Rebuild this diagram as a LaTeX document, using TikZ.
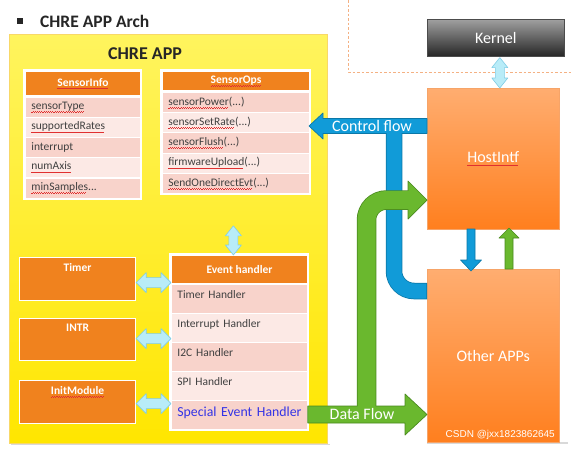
\documentclass[tikz,border=0pt]{standalone}
\usepackage{fontspec}
\setmainfont{Carlito}
\newfontfamily\csdnfont{Liberation Sans}
\usetikzlibrary{calc}
\definecolor{orh}{HTML}{F0821E}
\definecolor{rowD}{HTML}{F8D3CB}
\definecolor{rowL}{HTML}{FCE9E5}
\definecolor{txt}{HTML}{404040}
\definecolor{ttl}{HTML}{262626}
\definecolor{cfb}{HTML}{119BD8}
\definecolor{cfbd}{HTML}{0B78A8}
\definecolor{dfg}{HTML}{6AB82E}
\definecolor{dfgd}{HTML}{4A8A1F}
\definecolor{lbf}{HTML}{B8ECF8}
\definecolor{lbd}{HTML}{80CDE6}
\definecolor{sqr}{HTML}{E03030}
\definecolor{spec}{HTML}{3333E6}
\definecolor{dashc}{HTML}{F4B183}
\definecolor{ylT}{HTML}{FFF45E}
\definecolor{ylB}{HTML}{FFE600}
\definecolor{ylE}{HTML}{F8D868}
\definecolor{hoT}{HTML}{FFAD70}
\definecolor{hoB}{HTML}{FF7F1E}
\definecolor{hoE}{HTML}{F6A468}
\definecolor{knT}{HTML}{A0A0A0}
\definecolor{knB}{HTML}{262626}
\newcommand\sqw[1]{\setbox0\hbox{#1}\leavevmode\rlap{\color{sqr}\lower2.9pt\hbox to \wd0{\leaders\hbox{\rule{1.1pt}{0.45pt}\raise0.7pt\hbox{\rule{1.1pt}{0.45pt}}}\hfill}}\box0}
\newcommand\myfs[1]{\fontsize{#1}{#1}\selectfont}
\newcommand\hdbl[2]{\draw[lba] let \p1=(#1), \p2=(#2) in (\x1,\y1) -- (\x1+10pt,\y1+10pt) -- (\x1+10pt,\y1+5pt) -- (\x2-10pt,\y1+5pt) -- (\x2-10pt,\y1+10pt) -- (\x2,\y1) -- (\x2-10pt,\y1-10pt) -- (\x2-10pt,\y1-5pt) -- (\x1+10pt,\y1-5pt) -- (\x1+10pt,\y1-10pt) -- cycle;}
\newcommand\vdbl[2]{\draw[lba] let \p1=(#1), \p2=(#2) in (\x1,\y1) -- (\x1+8pt,\y1-10pt) -- (\x1+4.5pt,\y1-10pt) -- (\x1+4.5pt,\y2+10pt) -- (\x1+8pt,\y2+10pt) -- (\x1,\y2) -- (\x1-8pt,\y2+10pt) -- (\x1-4.5pt,\y2+10pt) -- (\x1-4.5pt,\y1-10pt) -- (\x1-8pt,\y1-10pt) -- cycle;}
\tikzset{
 hdr/.style={fill=orh, draw=white, line width=1pt, anchor=north west, inner sep=0pt, text=white, font=\myfs{11.5}\bfseries},
 cell/.style={draw=white, line width=0.8pt, anchor=north west, inner xsep=6pt, inner ysep=0pt, align=left, text=txt, font=\myfs{11.5}},
 dk/.style={cell, fill=rowD},
 lt/.style={cell, fill=rowL},
 obox/.style={fill=orh, draw=white, line width=1.2pt, anchor=north west, minimum width=116pt, minimum height=43pt, inner sep=0pt},
 olab/.style={text=white, font=\myfs{11.5}\bfseries, inner sep=0pt, anchor=north, yshift=-6pt},
 lba/.style={fill=lbf, draw=lbd, line width=0.6pt, line join=round},
 bigbox/.style={anchor=north west, minimum width=132pt, top color=hoT, bottom color=hoB, draw=hoE, line width=0.6pt, text=white, font=\myfs{16}},
 arrtxt/.style={text=white, font=\myfs{16}, inner sep=0pt},
}
\begin{document}
\begin{tikzpicture}[x=1pt,y=-1pt]
\useasboundingbox (0,0) rectangle (571,450);
\fill[white] (0,0) rectangle (571,450);

% dashed boundary
\draw[dashc, line width=1pt, dash pattern=on 2.5pt off 2pt] (348,0) -- (348,72) -- (571,72);

% title
\fill[ttl] (17,18) rectangle (23,24);
\node[anchor=west, font=\myfs{17.5}\bfseries, text=ttl, inner sep=0pt] (title) at (40,21) {CHRE APP Arch};

% yellow container
\draw[gray!30, line width=1.5pt] (11,444.5) -- (330,444.5);
\draw[gray!30, line width=1.2pt] (427,443) -- (568,443);
\node[anchor=north west, minimum width=318pt, minimum height=409pt, top color=ylT, bottom color=ylB, draw=ylE, line width=0.8pt, inner sep=0pt] (app) at (9,34) {};
\node[font=\myfs{18}\bfseries, text=ttl, inner sep=0pt] (apptitle) at (145,54) {CHRE APP};

% SensorInfo table
\fill[white] (23,69) rectangle (142,200);
\node[hdr, minimum width=115pt, minimum height=24pt] (si0) at (25,71) {\sqw{SensorInfo}};
\begin{scope}[every node/.append style={text width=103pt, minimum height=20pt}]
\node[dk] (si1) at (25,97) {\sqw{sensorType}};
\node[lt] (si2) at (25,117) {\sqw{supportedRates}};
\node[dk] (si3) at (25,137) {interrupt};
\node[lt] (si4) at (25,157) {\sqw{numAxis}};
\node[dk] (si5) at (25,177.5) {\sqw{minSamples}...};
\end{scope}

% SensorOps table
\fill[white] (160,69) rectangle (311,195);
\node[hdr, minimum width=147pt, minimum height=19pt] (op0) at (162,71) {\sqw{SensorOps}};
\begin{scope}[every node/.append style={text width=135pt, minimum height=20.2pt}]
\node[dk] (op1) at (162,92) {\sqw{sensorPower}(...)};
\node[lt] (op2) at (162,112.2) {\sqw{sensorSetRate}(...)};
\node[dk] (op3) at (162,132.4) {\sqw{sensorFlush}(...)};
\node[lt] (op4) at (162,152.6) {\sqw{firmwareUpload}(...)};
\node[dk] (op5) at (162,172.8) {\sqw{SendOneDirectEvt}(...)};
\end{scope}

% Event handler table
\fill[white] (169,253) rectangle (309,431);
\node[hdr, minimum width=136pt, minimum height=28pt] (ev0) at (171,255) {Event handler};
\begin{scope}[every node/.append style={text width=124pt, minimum height=29pt, text height=8pt, text depth=8pt}]
\node[dk] (ev1) at (171,284) {Timer Handler};
\node[lt] (ev2) at (171,313) {Interrupt Handler};
\node[dk] (ev3) at (171,342) {I2C Handler};
\node[lt] (ev4) at (171,371) {SPI Handler};
\node[dk, text=spec, font=\myfs{13.8}, text depth=5pt] (ev5) at (171,400) {\mbox{Special Event Handler}};
\end{scope}

% left module boxes
\node[obox, label={[olab]north:Timer}] (timer) at (19,257) {};
\node[obox, minimum height=42pt, label={[olab]north:INTR}] (intr) at (19,318) {};
\node[obox, label={[olab]north:\sqw{InitModule}}] (init) at (19,380) {};

% light blue double arrows
\hdbl{$(timer.east)+(0,3.5)$}{ev0.west}
\hdbl{$(intr.east)+(0,-1)$}{ev0.west}
\hdbl{$(init.east)+(0,1.5)$}{ev0.west}
\coordinate (oa) at ($(op5.south)+(-2.5,32)$);
\vdbl{oa}{ev0.north}

% kernel, host interface, other apps
\node[anchor=north west, minimum width=137pt, minimum height=37pt, top color=knT, bottom color=knB, draw=black!70, line width=0.6pt, text=white, font=\myfs{16}] (kernel) at (427,19) {Kernel};
\node[bigbox, minimum height=141pt] (host) at (427,88) {\sqw{HostIntf}};
\node[bigbox, minimum height=173pt] (other) at (427,269) {Other APPs};
\coordinate (ka) at ($(kernel.south)+(4,1)$);
\vdbl{ka}{host.north}

% control flow (blue)
\draw[cfbd, line width=16.5pt, rounded corners=20pt] (394,130) |- (host.west |- 0,291);
\draw[fill=cfb, draw=cfbd, line width=0.7pt, line join=round] (309,126) -- (323,113) -- (323,118.5) -- (host.west |- 0,118.5) -- (host.west |- 0,133.5) -- (323,133.5) -- (323,139) -- cycle;
\draw[cfb, line width=15pt, rounded corners=20pt] (394,132) |- ($(host.west |- 0,291)+(-0.6,0)$);
\node[arrtxt] (cflab) at (372,126) {Control flow};

% data flow (green)
\draw[dfgd, line width=19.5pt, rounded corners=20pt] (366.5,414) |- (409,200);
\draw[fill=dfg, draw=dfgd, line width=0.7pt, line join=round] (ev5.east |- 0,406) -- (405,406) -- (405,394) -- (other.west |- 0,414.5) -- (405,435) -- (405,423) -- (ev5.east |- 0,423) -- cycle;
\draw[fill=dfg, draw=dfgd, line width=0.7pt, line join=round] (408,181) -- (host.west |- 0,200) -- (408,219) -- cycle;
\draw[dfg, line width=18pt, rounded corners=20pt] (366.5,412) |- (409.5,200);
\node[arrtxt] (dflab) at (362,414) {Data Flow};

% small arrows between HostIntf and Other APPs
\draw[fill=cfb, draw=cfbd, line width=0.6pt, line join=round] (467,229) -- (475,229) -- (475,260) -- (481.5,260) -- (471,271) -- (460.5,260) -- (467,260) -- cycle;
\draw[fill=dfg, draw=dfgd, line width=0.6pt, line join=round] (505,269) -- (505,238) -- (499,238) -- (509,228) -- (519,238) -- (513,238) -- (513,269) -- cycle;

\node[anchor=south east, font=\csdnfont\myfs{10}, text=white, inner sep=0pt] (csdn) at (555,440) {CSDN @jxx1823862645};
\end{tikzpicture}
\end{document}
